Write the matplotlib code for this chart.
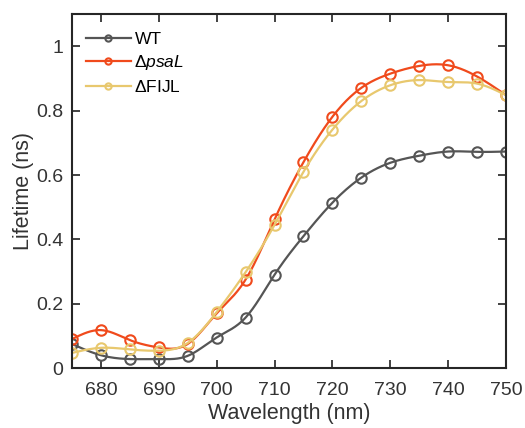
import numpy as np
import matplotlib
matplotlib.use('Agg')
from matplotlib import pyplot as plt

wavelength = [675, 680, 685, 690, 695, 700, 705, 710, 715, 720, 725, 730, 735, 740, 745, 750]
wt = [0.075, 0.040, 0.028, 0.028, 0.038, 0.095, 0.157, 0.290, 0.410, 0.514, 0.592, 0.638, 0.660, 0.673, 0.672, 0.673]
psal = [0.090, 0.118, 0.087, 0.064, 0.075, 0.170, 0.275, 0.462, 0.640, 0.781, 0.871, 0.915, 0.939, 0.941, 0.906, 0.848]
fijl = [0.047, 0.063, 0.058, 0.054, 0.078, 0.174, 0.298, 0.445, 0.610, 0.741, 0.830, 0.879, 0.895, 0.889, 0.884, 0.848]

labels = ['WT', r'$\Delta$$\mathit{psaL}$', r'$\Delta$FIJL']
colors = ['#555555', '#f04a1c', '#e8c86e']


def natural_spline(x, y, n=400):
    # natural cubic spline, only used to draw a smooth line through the points
    x = np.asarray(x, float)
    y = np.asarray(y, float)
    k = len(x)
    h = np.diff(x)
    A = np.zeros((k, k))
    b = np.zeros(k)
    A[0, 0] = A[-1, -1] = 1
    for i in range(1, k - 1):
        A[i, i - 1] = h[i - 1]
        A[i, i] = 2 * (h[i - 1] + h[i])
        A[i, i + 1] = h[i]
        b[i] = 6 * ((y[i + 1] - y[i]) / h[i] - (y[i] - y[i - 1]) / h[i - 1])
    m = np.linalg.solve(A, b)
    xs = np.linspace(x[0], x[-1], n)
    idx = np.clip(np.searchsorted(x, xs) - 1, 0, k - 2)
    x0, x1 = x[idx], x[idx + 1]
    hh = x1 - x0
    t0, t1 = x1 - xs, xs - x0
    ys = (m[idx] * t0**3 + m[idx + 1] * t1**3) / (6 * hh) \
        + (y[idx] / hh - m[idx] * hh / 6) * t0 \
        + (y[idx + 1] / hh - m[idx + 1] * hh / 6) * t1
    return xs, ys


plt.rcParams['font.family'] = ['Liberation Sans', 'DejaVu Sans']
plt.rcParams['mathtext.fontset'] = 'custom'
plt.rcParams['mathtext.rm'] = 'Liberation Sans'
plt.rcParams['mathtext.it'] = 'Liberation Sans:italic'

fig = plt.figure(figsize=(5.25, 4.28), dpi=100)
ax = fig.add_axes([0.137, 0.140, 0.827, 0.827])

for series, label, color in zip([wt, psal, fijl], labels, colors):
    xs, ys = natural_spline(wavelength, series)
    ax.plot(xs, ys, color=color, lw=1.6)
    ax.plot(wavelength, series, 'o', mfc='none', mec=color, mew=1.5, ms=7.5)
    ax.plot([], [], '-o', color=color, mfc='none', mew=1.5, ms=4.5, lw=1.6, label=label)

ax.set_xlim(675, 750)
ax.set_ylim(0, 1.1)
ax.set_xticks(range(680, 751, 10))
ax.set_yticks([0, 0.2, 0.4, 0.6, 0.8, 1])
ax.set_yticklabels(['0', '0.2', '0.4', '0.6', '0.8', '1'])
ax.tick_params(direction='in', top=True, right=True, length=6, width=1.3,
               labelsize=14, colors='#333333')
ax.tick_params(axis='x', pad=10)
ax.tick_params(axis='y', pad=6)
for s in ax.spines.values():
    s.set_linewidth(1.5)
    s.set_color('#262626')

ax.set_xlabel('Wavelength (nm)', fontsize=15.5, color='#333333', labelpad=3)
ax.set_ylabel('Lifetime (ns)', fontsize=15.5, color='#333333', labelpad=2)

ax.legend(loc='upper left', bbox_to_anchor=(0.0, 0.99), frameon=False,
          fontsize=12.5, handlelength=2.6, handletextpad=0.2,
          labelspacing=0.38, borderaxespad=0.4)

plt.savefig('out.png', dpi=100)
